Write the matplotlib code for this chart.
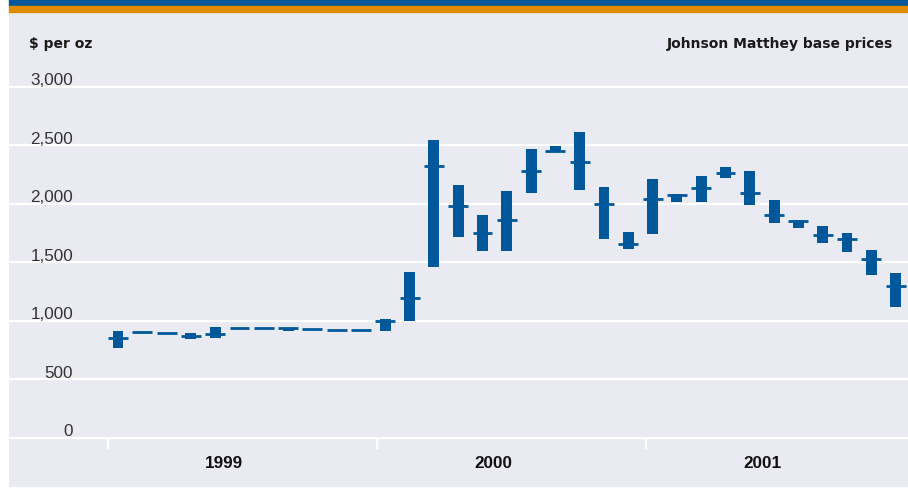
import matplotlib.pyplot as plt
from matplotlib.patches import Rectangle
import numpy as np

# monthly platinum-style price range, Jan 1999 - Sep 2001 ($ per oz)
months = ['Jan 99', 'Feb 99', 'Mar 99', 'Apr 99', 'May 99', 'Jun 99',
          'Jul 99', 'Aug 99', 'Sep 99', 'Oct 99', 'Nov 99', 'Dec 99',
          'Jan 00', 'Feb 00', 'Mar 00', 'Apr 00', 'May 00', 'Jun 00',
          'Jul 00', 'Aug 00', 'Sep 00', 'Oct 00', 'Nov 00', 'Dec 00',
          'Jan 01', 'Feb 01', 'Mar 01', 'Apr 01', 'May 01', 'Jun 01',
          'Jul 01', 'Aug 01', 'Sep 01']
high = [909, 905, 900, 895, 944, 940, 940, 938, 930, 922, 922, 1015,
        1416, 2544, 2160, 1903, 2109, 2467, 2493, 2613, 2143, 1758, 2211, 2086,
        2237, 2314, 2279, 2032, 1861, 1809, 1750, 1604, 1408]
low = [769, 897, 888, 843, 852, 930, 930, 915, 922, 914, 914, 915,
       997, 1462, 1718, 1598, 1598, 2094, 2447, 2120, 1701, 1615, 1741, 2015,
       2015, 2220, 1990, 1835, 1792, 1664, 1587, 1391, 1117]
avg = [850, 901, 892, 867, 886, 935, 935, 935, 926, 918, 918, 996,
       1191, 2328, 1986, 1747, 1858, 2285, 2456, 2354, 2003, 1661, 2046, 2073,
       2140, 2268, 2089, 1909, 1850, 1730, 1704, 1525, 1294]
years = ['1999', '2000', '2001']
yticks = [0, 500, 1000, 1500, 2000, 2500, 3000]

blue = '#00589a'
orange = '#e08a00'
bg = '#eaeaf2'

W, H = 908, 489
fig = plt.figure(figsize=(W / 100, H / 100), dpi=100, facecolor='white')
ax = fig.add_axes([9 / W, 1 / H, 899 / W, 475 / H])
ax.set_facecolor(bg)
for s in ax.spines.values():
    s.set_visible(False)
ax.set_xticks([])
ax.set_yticks([])

# header bands
fig.patches.append(Rectangle((9 / W, 1 - 7.3 / H), 1, 7.3 / H,
                             transform=fig.transFigure, color=blue, zorder=5))
fig.patches.append(Rectangle((9 / W, 1 - 12.7 / H), 1, 5.4 / H,
                             transform=fig.transFigure, color=orange, zorder=5))

x = np.arange(len(months))
ax.set_xlim(-4.486, 32.51)
ax.set_ylim(-421, 3641)

for v in yticks:
    ax.axhline(v, color='white', lw=1.6, zorder=1)
    ax.annotate(f'{v:,}', xy=(0.0712, v), xycoords=('axes fraction', 'data'),
                xytext=(0, 2), textcoords='offset points', ha='right',
                va='baseline', fontsize=12.3, color='#333333',
                family='Liberation Sans')

# year separators and labels
for k, yr in enumerate(years):
    sep = -0.41 + 11.07 * k
    ax.vlines(sep, -97, -11, color='white', lw=1.6, zorder=1)
    ax.text(4.36 + 11.07 * k, -208, yr, ha='center', va='center',
            fontsize=12.3, color='#111111', family='Liberation Sans',
            fontweight='bold')

high = np.array(high)
low = np.array(low)
ax.bar(x, high - low, bottom=low, width=0.45, color=blue, zorder=3)
ax.hlines(avg, x - 0.41, x + 0.41, color=blue, lw=2.0, zorder=4,
          capstyle='butt')

fig.text(29 / W, 1 - 47.7 / H, '$ per oz', ha='left', va='baseline',
         fontsize=10, fontweight='bold', color='#1a1a1a', family='DejaVu Sans')
fig.text(893 / W, 1 - 47.7 / H, 'Johnson Matthey base prices', ha='right',
         va='baseline', fontsize=10, fontweight='bold', color='#1a1a1a',
         family='DejaVu Sans')

fig.savefig('out.png', dpi=100, facecolor='white')
